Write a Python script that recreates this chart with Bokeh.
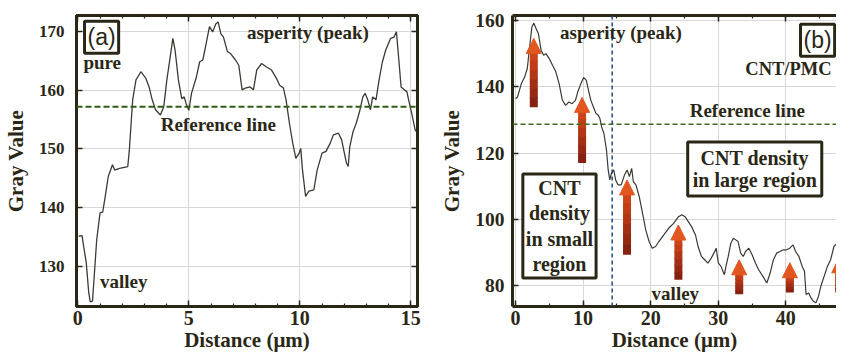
import numpy as np
from bokeh.plotting import figure
from bokeh.models import (Range1d, Span, Label, LinearAxis, Arrow, NormalHead, Grid,
                          ColumnDataSource, SingleIntervalTicker)
from bokeh.layouts import row
from bokeh.embed import file_html
from bokeh.resources import INLINE

# ---------------- data: panel (a) ----------------
a_x = [0.04, 0.19, 0.26, 0.38, 0.49, 0.56, 0.66, 0.75, 0.85, 1.0,
       1.12, 1.26, 1.37, 1.56, 1.66, 1.88, 2.25, 2.32, 2.47, 2.62,
       2.84, 3.06, 3.21, 3.35, 3.5, 3.72, 3.87, 4.01, 4.16, 4.28,
       4.38, 4.53, 4.68, 4.79, 4.9, 5.0, 5.12, 5.34, 5.49, 5.63,
       5.78, 5.93, 6.07, 6.22, 6.32, 6.44, 6.56, 6.74, 6.88, 7.1,
       7.25, 7.4, 7.54, 7.76, 7.91, 8.06, 8.28, 8.5, 8.72, 8.94,
       9.09, 9.26, 9.38, 9.53, 9.68, 9.82, 9.97, 10.04, 10.12, 10.26,
       10.41, 10.63, 10.78, 11.0, 11.18, 11.37, 11.51, 11.74, 11.88, 12.1,
       12.18, 12.25, 12.4, 12.54, 12.69, 12.84, 12.94, 13.06, 13.18, 13.28,
       13.43, 13.57, 13.72, 13.87, 14.09, 14.24, 14.35, 14.46, 14.56, 14.71,
       14.82, 14.9, 15.04, 15.19, 15.29]
a_y = [135.1, 135.2, 133.4, 130.6, 125.5, 123.9, 124.0, 128.9, 134.5, 139.1,
       139.2, 142.5, 145.3, 147.3, 146.4, 146.7, 147.0, 149.8, 158.4, 161.8,
       163.2, 162.1, 160.6, 158.4, 156.7, 155.8, 157.2, 161.8, 165.7, 168.9,
       166.9, 161.8, 158.6, 158.9, 157.5, 156.6, 159.5, 162.3, 164.9, 165.2,
       168.0, 170.9, 170.0, 171.4, 171.7, 169.7, 169.1, 166.6, 166.3, 165.2,
       164.3, 160.1, 160.4, 160.6, 160.1, 163.5, 164.6, 164.0, 163.5, 162.1,
       160.9, 160.4, 158.4, 154.4, 151.0, 148.4, 149.3, 150.1, 146.4, 141.9,
       142.8, 143.0, 146.4, 149.3, 149.6, 151.0, 152.4, 152.7, 151.6, 147.6,
       147.0, 150.4, 153.0, 154.4, 156.4, 158.9, 159.5, 158.4, 156.7, 158.9,
       158.4, 161.8, 164.9, 166.9, 168.9, 169.1, 170.0, 165.2, 160.6, 160.1,
       159.8, 158.4, 156.1, 153.3, 152.7]
a_ref = 157.2

# ---------------- data: panel (b) ----------------
b_x = [0.0, 0.29, 0.87, 1.36, 1.74, 2.08, 2.42, 2.71, 3.05, 3.39,
       3.78, 4.16, 4.5, 4.99, 5.47, 5.96, 6.44, 6.93, 7.41, 7.89,
       8.38, 8.86, 9.2, 9.59, 10.07, 10.46, 10.8, 11.14, 11.53, 11.91,
       12.25, 12.49, 12.74, 13.08, 13.46, 13.71, 13.95, 14.19, 14.53, 14.82,
       15.16, 15.64, 16.13, 16.51, 16.85, 17.19, 17.43, 17.82, 18.3, 18.79,
       19.27, 19.76, 20.24, 20.73, 21.21, 21.94, 22.66, 23.39, 24.12, 24.6,
       25.08, 25.57, 26.05, 26.63, 27.02, 27.51, 27.99, 28.47, 28.96, 29.35,
       29.69, 30.02, 30.41, 30.9, 31.14, 31.48, 31.86, 32.25, 32.59, 32.93,
       33.32, 33.7, 34.04, 34.53, 35.01, 35.5, 35.98, 36.61, 37.19, 37.68,
       38.16, 38.64, 39.13, 39.61, 40.1, 40.58, 41.07, 41.45, 41.94, 42.42,
       42.76, 43.0, 43.39, 43.73, 44.07, 44.46, 44.84, 45.18, 45.67, 46.15,
       46.63, 47.12, 47.6, 48.09, 48.6]
b_y = [136.4, 136.9, 141.0, 143.0, 145.5, 152.0, 158.0, 159.2, 157.5, 156.0,
       151.0, 149.5, 150.0, 148.5, 146.5, 144.5, 141.0, 136.0, 134.4, 135.4,
       134.9, 135.9, 138.4, 140.5, 142.8, 142.0, 138.9, 135.9, 133.9, 131.9,
       131.4, 130.4, 127.9, 125.9, 120.9, 114.9, 111.9, 113.9, 114.9, 111.9,
       110.4, 110.4, 113.4, 114.9, 112.9, 115.4, 111.4, 110.4, 106.9, 101.9,
       96.8, 93.3, 91.3, 91.8, 93.3, 95.3, 97.3, 98.8, 100.8, 101.4,
       100.8, 99.3, 97.8, 95.3, 91.8, 88.8, 87.8, 86.8, 88.3, 89.8,
       91.3, 86.8, 85.8, 83.3, 85.8, 88.8, 92.8, 94.3, 93.8, 93.3,
       89.8, 88.8, 90.3, 91.3, 89.3, 86.8, 84.8, 82.8, 80.8, 83.8,
       87.8, 89.8, 90.3, 90.8, 90.8, 91.3, 92.3, 90.3, 88.8, 85.8,
       84.3, 77.3, 77.8, 76.3, 75.3, 74.8, 76.8, 79.8, 82.8, 85.8,
       87.8, 91.8, 92.8, 93.8, 95.8]
b_ref = 128.7
b_split = 14.3
arrow_x = [2.7, 9.85, 16.5, 24.1, 33.1, 40.6, 47.9]
arrow_y0 = [133.8, 117.0, 89.3, 81.8, 77.4, 77.9, 77.9]
arrow_y1 = [154.6, 136.8, 111.9, 98.3, 87.8, 86.9, 88.4]

# ---------------- styles ----------------
DARK = "#2a2716"
CURVE = "#3b3b33"
GRID = "#dcd7d7"
SERIF = "Liberation Serif"
SANS = "Liberation Sans"
H = 354


def style_axis(ax, ticker, label_size, title=None, title_size="21px", standoff=10, title_standoff=6, labels=True):
    ax.ticker = ticker
    ax.axis_line_width = 3
    ax.axis_line_color = DARK
    ax.major_tick_in = 6
    ax.major_tick_out = 0
    ax.minor_tick_in = 3
    ax.minor_tick_out = 0
    ax.major_tick_line_color = DARK
    ax.major_tick_line_width = 1.5
    ax.minor_tick_line_color = DARK
    ax.minor_tick_line_width = 1.2
    if labels:
        ax.major_label_text_font = SERIF
        ax.major_label_text_font_style = "bold"
        ax.major_label_text_font_size = label_size
        ax.major_label_text_color = DARK
        ax.major_label_standoff = standoff
    else:
        ax.major_label_text_font_size = "1px"
        ax.major_label_text_color = None
        ax.major_label_standoff = 0
    if title:
        ax.axis_label = title
        ax.axis_label_text_font = SERIF
        ax.axis_label_text_font_style = "bold"
        ax.axis_label_text_font_size = title_size
        ax.axis_label_text_color = DARK
        ax.axis_label_standoff = title_standoff


def lbl(p, x, y, text, size="19px", align="center", font=SERIF, bold=True, box=False, pad=3, lh=1.2):
    kw = dict(x=x, y=y, text=text, text_font=font, text_font_size=size,
              text_font_style="bold" if bold else "normal", text_color=DARK,
              text_align=align, text_baseline="middle", text_line_height=lh)
    if box:
        kw.update(border_line_color=DARK, border_line_width=3,
                  background_fill_color="white", padding=pad)
    p.add_layout(Label(**kw))


# ================= panel (a) =================
pa = figure(width=437, height=H, x_range=Range1d(-0.06, 15.3), y_range=Range1d(123.1, 172.8),
            output_backend="svg", toolbar_location=None,
            min_border_left=66, min_border_right=20, min_border_top=15, min_border_bottom=40,
            x_axis_type=None, y_axis_type=None)
pa.outline_line_color = DARK
pa.outline_line_width = 3
pa.background_fill_color = "white"

for loc, dim in (("below", "x"), ("above", "x"), ("left", "y"), ("right", "y")):
    ax = LinearAxis()
    pa.add_layout(ax, loc)
    if dim == "x":
        t = SingleIntervalTicker(interval=5, num_minor_ticks=5)
        style_axis(ax, t, "20px", title="Distance (\u03bcm)" if loc == "below" else None,
                   title_size="21px", standoff=4, title_standoff=0, labels=(loc == "below"))
    else:
        t = SingleIntervalTicker(interval=10, num_minor_ticks=0)
        style_axis(ax, t, "17px", title="Gray Value" if loc == "left" else None,
                   standoff=12, title_standoff=8, labels=(loc == "left"))

pa.add_layout(Grid(dimension=0, ticker=SingleIntervalTicker(interval=5), grid_line_color=GRID))
pa.add_layout(Grid(dimension=1, ticker=SingleIntervalTicker(interval=10), grid_line_color=GRID))

pa.add_layout(Span(location=a_ref, dimension="width", line_color="#2f5e14",
                   line_width=2, line_dash="6 3"))
pa.line(a_x, a_y, line_color=CURVE, line_width=1.3)

lbl(pa, 1.07, 169.1, "(a)", size="23px", font=SANS, bold=False, box=True, pad=3)
lbl(pa, 0.25, 164.7, "pure", align="left")
lbl(pa, 10.36, 169.9, "asperity (peak)")
lbl(pa, 6.33, 154.2, "Reference line")
lbl(pa, 1.0, 127.3, "valley", align="left")

# ================= panel (b) =================
pb = figure(width=399, height=H, x_range=Range1d(-0.45, 47.5), y_range=Range1d(73.7, 161.5),
            output_backend="svg", toolbar_location=None,
            min_border_left=69, min_border_right=0, min_border_top=15, min_border_bottom=40,
            x_axis_type=None, y_axis_type=None)
pb.outline_line_color = None
pb.background_fill_color = "white"

for loc, dim in (("below", "x"), ("above", "x"), ("left", "y")):
    ax = LinearAxis()
    pb.add_layout(ax, loc)
    if dim == "x":
        t = SingleIntervalTicker(interval=10, num_minor_ticks=2)
        style_axis(ax, t, "20px", title="Distance (\u03bcm)" if loc == "below" else None,
                   title_size="21px", standoff=4, title_standoff=0, labels=(loc == "below"))
    else:
        t = SingleIntervalTicker(interval=20, num_minor_ticks=0)
        style_axis(ax, t, "19.5px", title="Gray Value", standoff=8, title_standoff=8)

pb.add_layout(Grid(dimension=0, ticker=SingleIntervalTicker(interval=10), grid_line_color=GRID))
pb.add_layout(Grid(dimension=1, ticker=SingleIntervalTicker(interval=20), grid_line_color=GRID))

pb.add_layout(Span(location=b_ref, dimension="width", line_color="#3b6b1e",
                   line_width=1.6, line_dash="5 3"))
pb.add_layout(Span(location=b_split, dimension="height", line_color="#1d4a7a",
                   line_width=1.5, line_dash="4 3"))
pb.line(b_x, b_y, line_color=CURVE, line_width=1.2)

# arrows: gradient shaft (segments) + head
head_len = 4.0
nseg = 6
c0 = np.array([0x7e, 0x1e, 0x10])
c1 = np.array([0xd6, 0x48, 0x1a])
sx, sy0, sy1, scol = [], [], [], []
for x, y0, y1 in zip(arrow_x, arrow_y0, arrow_y1):
    top = y1 - head_len
    for k in range(nseg):
        t0, t1 = k / nseg, (k + 1) / nseg
        c = (c0 + (c1 - c0) * (t0 + t1) / 2).astype(int)
        sx.append(x)
        sy0.append(y0 + (top - y0) * t0)
        sy1.append(y0 + (top - y0) * t1 + 0.3)
        scol.append("#%02x%02x%02x" % tuple(c))
pb.segment(x0=sx, y0=sy0, x1=sx, y1=sy1, line_color=scol, line_width=8, line_cap="butt")
asrc = ColumnDataSource(dict(x=arrow_x, y0=[y - head_len for y in arrow_y1], y1=arrow_y1))
pb.add_layout(Arrow(end=NormalHead(size=15, fill_color="#e2561f", line_color="#e2561f", line_width=1),
                    x_start="x", y_start="y0", x_end="x", y_end="y1", source=asrc,
                    line_alpha=0, line_width=1))

lbl(pb, 15.6, 156.4, "asperity (peak)")
lbl(pb, 44.7, 154.0, "(b)", size="23px", font=SANS, bold=False, box=True, pad=3)
lbl(pb, 34.0, 145.4, "CNT/PMC", size="18.5px", align="left")
lbl(pb, 34.3, 132.8, "Reference line")
lbl(pb, 35.4, 115.2, "CNT density\nin large region", size="20px", box=True, pad=5, lh=1.0)
lbl(pb, 6.5, 98.0, "CNT\ndensity\nin small\nregion", size="20px", box=True, pad=3, lh=1.15)
lbl(pb, 23.65, 77.6, "valley")

layout = row(pa, pb)
open("out.html", "w").write(file_html(layout, INLINE))
